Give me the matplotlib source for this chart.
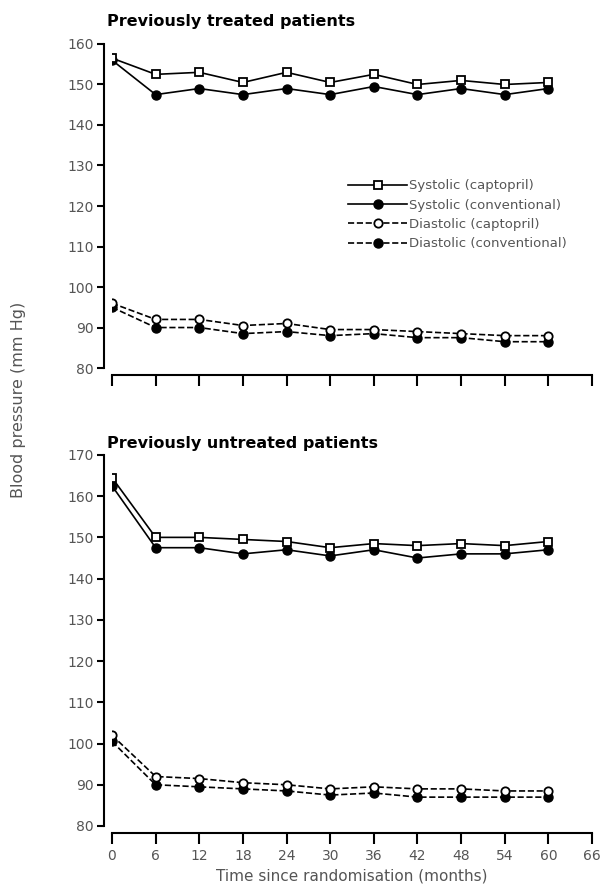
import numpy as np
import matplotlib
matplotlib.use("Agg")
import matplotlib.pyplot as plt

months = [0, 6, 12, 18, 24, 30, 36, 42, 48, 54, 60]
xticks = np.arange(0, 67, 6)

# previously treated
tr_sys_capt = [156.5, 152.5, 153, 150.5, 153, 150.5, 152.5, 150, 151, 150, 150.5]
tr_sys_conv = [156, 147.5, 149, 147.5, 149, 147.5, 149.5, 147.5, 149, 147.5, 149]
tr_dia_capt = [96, 92, 92, 90.5, 91, 89.5, 89.5, 89, 88.5, 88, 88]
tr_dia_conv = [95, 90, 90, 88.5, 89, 88, 88.5, 87.5, 87.5, 86.5, 86.5]

# previously untreated
un_sys_capt = [164.5, 150, 150, 149.5, 149, 147.5, 148.5, 148, 148.5, 148, 149]
un_sys_conv = [162.5, 147.5, 147.5, 146, 147, 145.5, 147, 145, 146, 146, 147]
un_dia_capt = [102, 92, 91.5, 90.5, 90, 89, 89.5, 89, 89, 88.5, 88.5]
un_dia_conv = [100.5, 90, 89.5, 89, 88.5, 87.5, 88, 87, 87, 87, 87]

labels = ["Systolic (captopril)", "Systolic (conventional)",
          "Diastolic (captopril)", "Diastolic (conventional)"]

plt.rcParams["font.family"] = ["DejaVu Sans"]

fig = plt.figure(figsize=(6.1, 8.92), dpi=100)
ax1 = fig.add_axes([0.1836, 0.5874, 0.787, 0.3633])
ax2 = fig.add_axes([0.1836, 0.074, 0.787, 0.416])

def draw(ax, sc, sv, dc, dv):
    lw = 1.2
    ax.plot(months, sv, "-", color="k", lw=lw, marker="o", ms=6.5,
            mfc="k", mec="k", label=labels[1], zorder=3)
    ax.plot(months, sc, "-", color="k", lw=lw, marker="s", ms=6,
            mfc="white", mec="k", mew=1.3, label=labels[0], zorder=4)
    ax.plot(months, dv, "--", color="k", lw=lw, marker="o", ms=6.5,
            mfc="k", mec="k", label=labels[3], zorder=3)
    ax.plot(months, dc, "--", color="k", lw=lw, marker="o", ms=6,
            mfc="white", mec="k", mew=1.3, label=labels[2], zorder=4)
    for s in ["top", "right"]:
        ax.spines[s].set_visible(False)
    ax.spines["left"].set_position(("outward", 6))
    ax.spines["bottom"].set_position(("outward", 5))
    ax.spines["left"].set_linewidth(1.5)
    ax.spines["bottom"].set_linewidth(1.5)
    ax.set_xlim(0, 66)
    ax.set_xticks(xticks)
    ax.tick_params(axis="x", direction="out", length=8, width=1.5,
                   labelsize=10, colors="k", labelcolor="#555")
    ax.tick_params(axis="y", direction="out", length=5, width=1.5,
                   labelsize=10, colors="k", labelcolor="#555", pad=2)

draw(ax1, tr_sys_capt, tr_sys_conv, tr_dia_capt, tr_dia_conv)
ax1.set_ylim(80, 160)
ax1.set_yticks(np.arange(80, 161, 10))
ax1.set_xticklabels([])
ax1.set_title("Previously treated patients", loc="left", fontsize=11.5,
              fontweight="bold", x=-0.01, y=1.03)

draw(ax2, un_sys_capt, un_sys_conv, un_dia_capt, un_dia_conv)
ax2.set_ylim(80, 170)
ax2.set_yticks(np.arange(80, 171, 10))
ax2.set_xlabel("Time since randomisation (months)", fontsize=11,
               color="#555", labelpad=4)
ax2.set_title("Previously untreated patients", loc="left", fontsize=11.5,
              fontweight="bold", x=-0.01, y=0.995)

h, l = ax1.get_legend_handles_labels()
order = [1, 0, 3, 2]
fig.legend([h[i] for i in order], [l[i] for i in order],
           loc="upper left", bbox_to_anchor=(0.562, 0.805), frameon=False,
           fontsize=9.5, handlelength=4.5, handletextpad=0.15,
           labelspacing=0.48, labelcolor="#555", borderaxespad=0)

fig.text(0.03, 0.552, "Blood pressure (mm Hg)", rotation=90, ha="center",
         va="center", fontsize=11.5, color="#555")

fig.savefig("out.png", dpi=100)
